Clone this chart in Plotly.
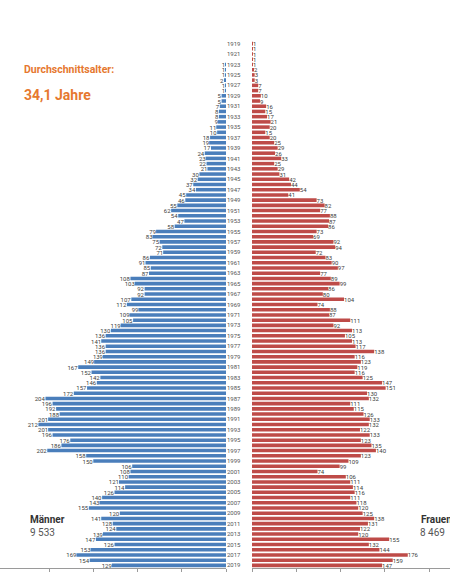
import plotly.graph_objects as go

years = list(range(1919, 2020))

men = [0, 0, 0, 0, 1, 1, 1, 2, 1, 1,
       5, 5, 7, 8, 8, 9, 11, 10, 18, 19,
       17, 24, 23, 22, 21, 30, 32, 37, 34, 45,
       46, 55, 62, 54, 47, 58, 79, 83, 75, 72,
       71, 86, 91, 85, 87, 108, 103, 92, 92, 107,
       112, 99, 109, 105, 119, 130, 136, 141, 136, 136,
       139, 149, 167, 152, 142, 146, 157, 172, 204, 196,
       192, 188, 201, 212, 201, 196, 176, 186, 202, 158,
       150, 106, 108, 110, 121, 114, 126, 140, 143, 155,
       120, 141, 128, 124, 139, 147, 126, 153, 169, 154,
       129]

women = [1, 1, 1, 1, 1, 2, 3, 3, 7, 7,
         10, 9, 16, 15, 17, 21, 20, 15, 20, 25,
         29, 26, 33, 25, 29, 31, 42, 44, 54, 41,
         73, 82, 77, 88, 87, 86, 73, 69, 92, 94,
         72, 83, 90, 97, 77, 89, 99, 86, 80, 104,
         74, 88, 87, 111, 92, 113, 105, 113, 117, 138,
         116, 123, 119, 116, 125, 147, 151, 130, 132, 111,
         115, 126, 133, 132, 122, 133, 123, 135, 140, 123,
         109, 99, 74, 106, 111, 114, 116, 111, 118, 120,
         125, 138, 131, 122, 120, 155, 132, 144, 176, 159,
         147]

year_ticks = [y for y in years if y % 2 == 1]
x_ticks = [0, 50, 100, 150, 200]

W, H = 450, 572
T, B = 41, 2
PH = H - T - B


def px(x, y):
    return x / W, (H - B - y) / PH


FONT = "Roboto"
fig = go.Figure()
fig.add_trace(go.Bar(
    y=years, x=men, orientation="h", xaxis="x", yaxis="y",
    marker=dict(color="#4A7EBB", line=dict(width=0)),
    text=[str(v) if v else "" for v in men], textposition="outside",
    textfont=dict(size=6, color="#404040", family=FONT),
    constraintext="none", cliponaxis=False, hoverinfo="skip"))
fig.add_trace(go.Bar(
    y=years, x=women, orientation="h", xaxis="x2", yaxis="y2",
    marker=dict(color="#BE4B48", line=dict(width=0)),
    text=[str(v) if v else "" for v in women], textposition="outside",
    textfont=dict(size=6, color="#404040", family=FONT),
    constraintext="none", cliponaxis=False, hoverinfo="skip"))

axis_common = dict(showgrid=False, zeroline=False, showline=True, linecolor="#9a9a9a",
                   linewidth=1, ticks="outside", ticklen=4, tickcolor="#9a9a9a",
                   tickvals=x_ticks, showticklabels=False, fixedrange=True)

fig.update_layout(
    width=W, height=H, margin=dict(l=0, r=0, t=T, b=B),
    showlegend=False, plot_bgcolor="white", paper_bgcolor="white",
    bargap=0.32, font=dict(family=FONT),
    xaxis=dict(domain=[0, 226 / W], range=[255.4, 0], **axis_common),
    xaxis2=dict(domain=[252 / W, 1], range=[0, 223.7], **axis_common),
    yaxis=dict(anchor="x", side="right", range=[2019.5, 1918.5],
               tickvals=year_ticks, ticktext=[str(y) for y in year_ticks],
               tickfont=dict(size=6, color="#555555", family=FONT),
               showgrid=False, zeroline=False, ticks="", showline=False),
    yaxis2=dict(anchor="x2", range=[2019.5, 1918.5], showticklabels=False,
                showgrid=False, zeroline=False, ticks="", showline=False),
)

orange = "#E6782F"
anns = [
    ("<b>Durchschnittsalter:</b>", 22, 70, 10.5, orange),
    ("<b>34,1 Jahre</b>", 22, 95, 14, orange),
    ("<b>Männer</b>", 28, 521, 10, "#333333"),
    ("9 533", 28, 534, 10, "#555555"),
    ("<b>Frauen</b>", 419, 521, 10, "#333333"),
    ("8 469", 418, 534, 10, "#555555"),
]
for txt, x, y, size, col in anns:
    ax, ay = px(x, y)
    fig.add_annotation(text=txt, x=ax, y=ay, xref="paper", yref="paper",
                       xanchor="left", yanchor="middle", showarrow=False,
                       font=dict(size=size, color=col, family=FONT))

fig.write_html("out.html")
